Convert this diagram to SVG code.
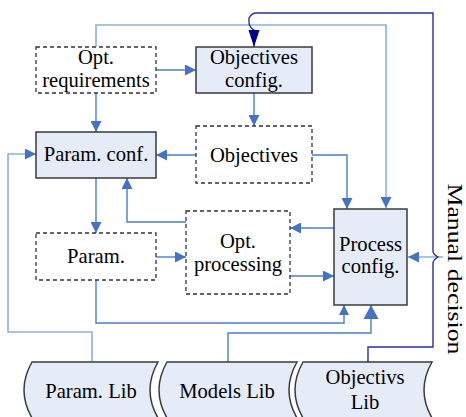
<svg xmlns="http://www.w3.org/2000/svg" width="466" height="417" viewBox="0 0 466 417">
<defs>
<style>
.solid{fill:#E5ECF7;stroke:#3A3A3A;stroke-width:1.5}
.dash{fill:#FFFFFF;stroke:#333333;stroke-width:1.3;stroke-dasharray:4 3}
.lib{fill:#E5ECF7;stroke:#3A3A3A;stroke-width:1.5}
.t{font-size:20.6px;fill:#000000;text-anchor:middle}
.c{fill:none;stroke:#4A7EC7;stroke-width:1.4}
.cl{fill:none;stroke:#8DB0E0;stroke-width:1.6}
.cd{fill:none;stroke:#2E2E92;stroke-width:1.4}
</style>
<marker id="a" markerUnits="userSpaceOnUse" markerWidth="11" markerHeight="11" refX="11" refY="5.5" orient="auto"><path d="M0,0 L11,5.5 L0,11 Z" fill="#4472C4"/></marker>
<marker id="as" markerUnits="userSpaceOnUse" markerWidth="10" markerHeight="11" refX="10" refY="5.5" orient="auto"><path d="M0,0.5 L10,5.5 L0,10.5 Z" fill="#4472C4"/></marker>
<marker id="ab" markerUnits="userSpaceOnUse" markerWidth="14" markerHeight="16" refX="14" refY="8" orient="auto"><path d="M0,0.5 L14,8 L0,15.5 Z" fill="#4472C4"/></marker>
<marker id="ad" markerUnits="userSpaceOnUse" markerWidth="17" markerHeight="12" refX="17" refY="6" orient="auto"><path d="M0,0.5 L17,6 L0,11.5 Z" fill="#00008B"/></marker>
</defs>

<g id="connectors">
<path class="cl" d="M96,47 V25 H386 V208" marker-end="url(#a)"/>
<path class="c" d="M156,70 H196" marker-end="url(#a)"/>
<path class="c" d="M96,93 V132" marker-end="url(#a)"/>
<path class="c" d="M254,93 V126" marker-end="url(#a)"/>
<path class="c" d="M196,155 H156" marker-end="url(#a)"/>
<path class="c" d="M312,155 H347 V209" marker-end="url(#a)"/>
<path class="c" d="M96,178 V233" marker-end="url(#a)"/>
<path class="c" d="M186,222 H127 V178" marker-end="url(#a)"/>
<path class="c" d="M156,257 H186" marker-end="url(#a)"/>
<path class="c" d="M334,228 H290" marker-end="url(#a)"/>
<path class="c" d="M290,276 H334" marker-end="url(#a)"/>
<path class="c" d="M96,280 V323 H344 V305" marker-end="url(#as)"/>
<path class="cl" d="M92,362 V332 H8 V154 H36" marker-end="url(#a)"/>
<path class="c" d="M228,362 V333 H371 V305" marker-end="url(#ab)"/>
<path class="cl" d="M443,257 H408" marker-end="url(#a)"/>
<path class="cd" d="M368,362 V347 H433 V263 Q433,260 438,257 Q433,254 433,251 V13 H256 Q252,13 249,18 V22 Q249,27 254,30 V47" marker-end="url(#ad)"/>
</g>

<g font-family="'Liberation Serif', 'Times New Roman', 'DejaVu Serif', serif">
<g id="opt-requirements">
<rect class="dash" x="36" y="47" width="120" height="46"/>
<text class="t" x="96" y="63.5">Opt.</text>
<text class="t" x="96" y="87">requirements</text>
</g>
<g id="objectives-config">
<rect class="solid" x="196" y="47" width="116" height="46"/>
<text class="t" x="254" y="63.5">Objectives</text>
<text class="t" x="254" y="87">config.</text>
</g>
<g id="param-conf">
<rect class="solid" x="36" y="132" width="120" height="46"/>
<text class="t" x="96" y="161">Param. conf.</text>
</g>
<g id="objectives">
<rect class="dash" x="196" y="126" width="116" height="57"/>
<text class="t" x="254" y="161.5">Objectives</text>
</g>
<g id="param">
<rect class="dash" x="36" y="233" width="120" height="47"/>
<text class="t" x="96" y="262.5">Param.</text>
</g>
<g id="opt-processing">
<rect class="dash" x="186" y="211" width="104" height="83"/>
<text class="t" x="238" y="247.5">Opt.</text>
<text class="t" x="238" y="270.5">processing</text>
</g>
<g id="process-config">
<rect class="solid" x="334" y="209" width="73" height="96"/>
<text class="t" x="370.5" y="251">Process</text>
<text class="t" x="370.5" y="273">config.</text>
</g>
<g id="manual-decision">
<text class="t" transform="translate(448,269) rotate(90)" font-size="23" textLength="171" lengthAdjust="spacingAndGlyphs">Manual decision</text>
</g>
<g id="param-lib">
<path class="lib" d="M32,362 H158 Q142,390 158,418 H32 Q16,390 32,362 Z"/>
<text class="t" x="91" y="398">Param. Lib</text>
</g>
<g id="models-lib">
<path class="lib" d="M167,362 H297 Q281,390 297,418 H167 Q151,390 167,362 Z"/>
<text class="t" x="227" y="398">Models Lib</text>
</g>
<g id="objectivs-lib">
<path class="lib" d="M303,362 H432 Q416,390 432,418 H303 Q287,390 303,362 Z"/>
<text class="t" x="365" y="384">Objectivs</text>
<text class="t" x="365" y="409">Lib</text>
</g>
</g>
</svg>
